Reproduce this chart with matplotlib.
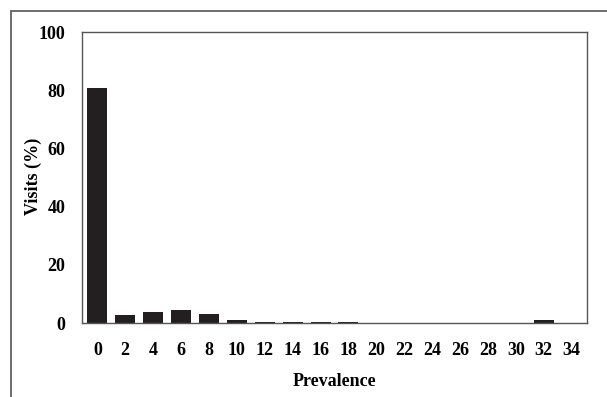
import matplotlib
matplotlib.use("Agg")
import matplotlib.pyplot as plt
from matplotlib.patches import Rectangle

prevalence = [0, 2, 4, 6, 8, 10, 12, 14, 16, 18, 20, 22, 24, 26, 28, 30, 32, 34]
visits = [80.6, 2.8, 3.9, 4.4, 3.1, 1.2, 0.45, 0.4, 0.35, 0.35, 0, 0, 0, 0, 0, 0, 0.9, 0]
yticks = [0, 20, 40, 60, 80, 100]

plt.rcParams['font.family'] = ['Liberation Serif', 'DejaVu Serif']
plt.rcParams['font.weight'] = 'bold'

fig = plt.figure(figsize=(6.07, 3.97), dpi=100)
W, H = 607, 397
ax = fig.add_axes([82 / W, 1 - 323 / H, (587 - 82) / W, (323 - 32) / H])

pos = list(range(len(prevalence)))
ax.bar(pos, visits, width=0.72, color='#231f20')
ax.set_xlim(-0.55, len(prevalence) - 0.45)
ax.set_ylim(0, 100)
ax.set_yticks(yticks)
ax.set_xticks(pos)
ax.set_xticklabels([str(p) for p in prevalence])
ax.tick_params(length=0, labelsize=13)
ax.tick_params(axis='x', pad=14)
ax.tick_params(axis='y', pad=12)
for s in ax.spines.values():
    s.set_color('#555555')
    s.set_linewidth(1.0)

ax.set_xlabel('Prevalence', fontsize=13, fontweight='bold', labelpad=10)
ax.set_ylabel('Visits (%)', fontsize=13, fontweight='bold')
ax.yaxis.set_label_coords(-0.08, 0.505)

# outer frame (cropped at right and bottom)
fig.patches.append(Rectangle((11 / W, -0.1), 1.2, 1 - 11 / H + 0.1,
                             transform=fig.transFigure, fill=False,
                             edgecolor='#555555', linewidth=1.2))

fig.savefig('out.png', dpi=100)
